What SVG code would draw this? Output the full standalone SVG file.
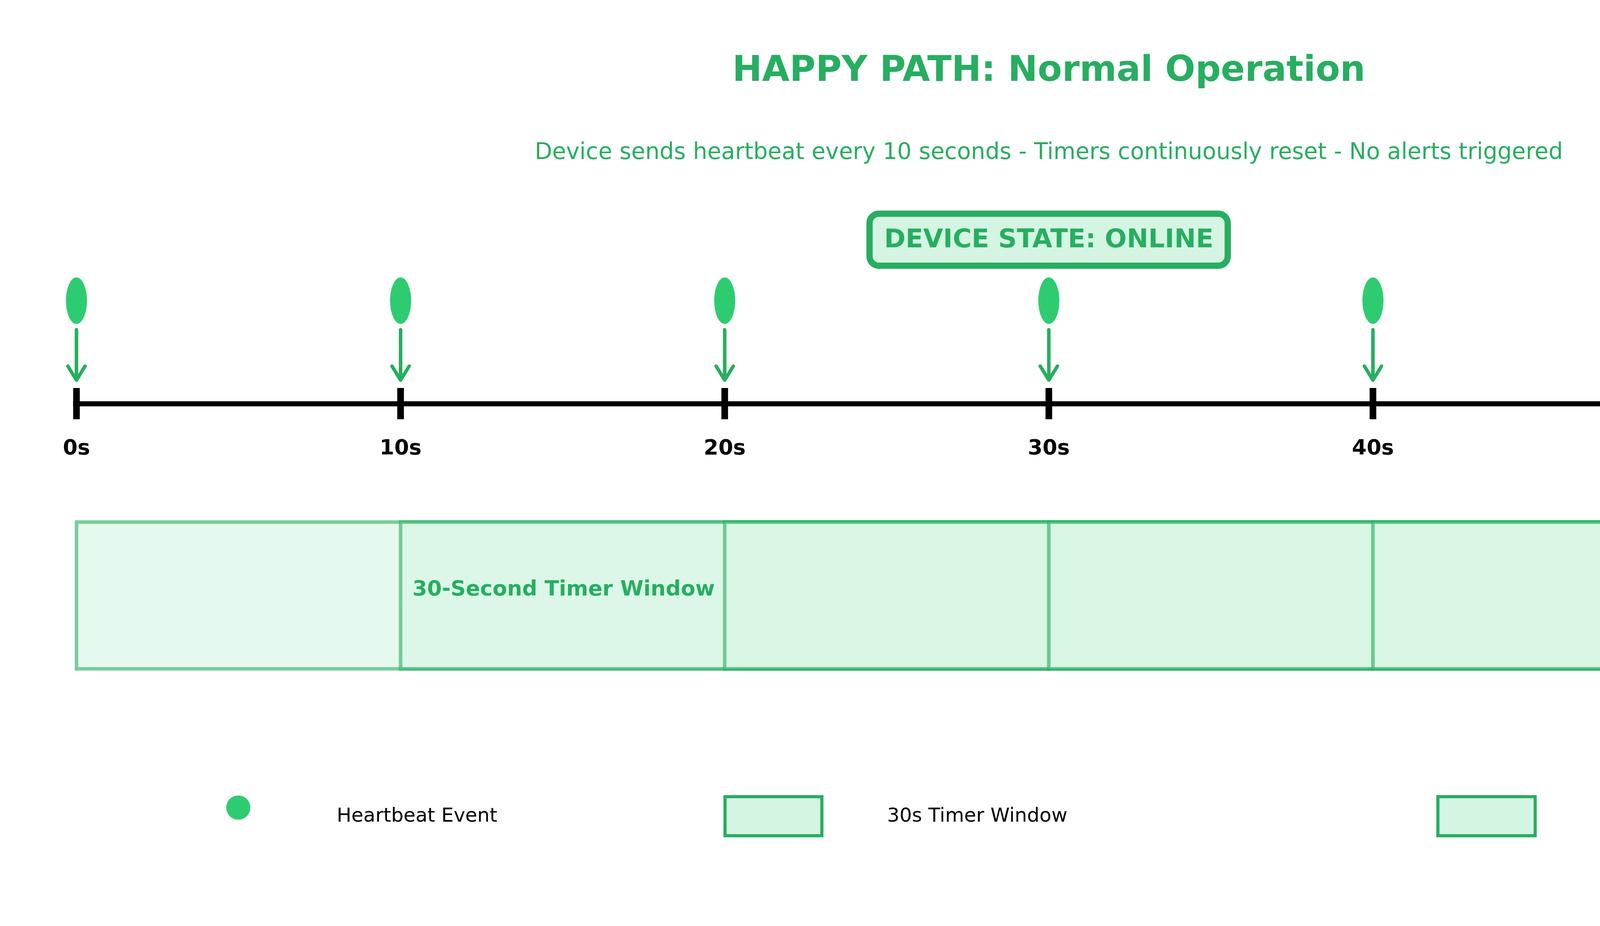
<svg xmlns="http://www.w3.org/2000/svg" width="5370" height="2370" viewBox="0 0 5370 2370">
<style>
text{font-family:"DejaVu Sans","Liberation Sans",sans-serif}
.title{font-size:91px;font-weight:bold;fill:#27ae60}
.sub{font-size:58px;fill:#27ae60}
.state{font-size:66px;font-weight:bold;fill:#27ae60}
.tl{font-size:54px;font-weight:bold;fill:#000}
.wl{font-size:54px;font-weight:bold;fill:#27ae60}
.lg{font-size:50px;fill:#000}
.hb{fill:#2ecc71}
.arr{fill:none;stroke:#27ae60;stroke-width:9;stroke-linecap:round;stroke-linejoin:round}
.tick{stroke:#000;stroke-width:17}
.win{fill:#d5f5e3;fill-opacity:0.6;stroke:#27ae60;stroke-opacity:0.6;stroke-width:9}
.lbox{fill:#d5f5e3;stroke:#27ae60;stroke-width:8}
</style>
<defs>
<clipPath id="bandclip"><rect x="0" y="1300" width="5340" height="450"/></clipPath>
</defs>
<rect x="0" y="0" width="5370" height="2370" fill="#fff"/>
<g id="title">
<text class="title" x="2685" y="207" text-anchor="middle">HAPPY PATH: Normal Operation</text>
<text class="sub" x="2685" y="407" text-anchor="middle">Device sends heartbeat every 10 seconds - Timers continuously reset - No alerts triggered</text>
</g>
<g id="state">
<rect x="2226" y="547" width="917" height="133" rx="24" ry="24" fill="#d5f5e3" stroke="#27ae60" stroke-width="16"/>
<text class="state" x="2685" y="633" text-anchor="middle">DEVICE STATE: ONLINE</text>
</g>
<g id="windows" clip-path="url(#bandclip)">
<rect class="win" x="195.75" y="1336" width="2489.25" height="376"/>
<rect class="win" x="1025.5" y="1336" width="2489.25" height="376"/>
<rect class="win" x="1855.25" y="1336" width="2489.25" height="376"/>
<rect class="win" x="2685" y="1336" width="2489.25" height="376"/>
<rect class="win" x="3514.75" y="1336" width="2489.25" height="376"/>
<rect class="win" x="4344.5" y="1336" width="2489.25" height="376"/>
<text class="wl" x="1056" y="1524">30-Second Timer Window</text>
</g>
<g id="axis">
<line x1="187" y1="1033.5" x2="5183" y2="1033.5" stroke="#000" stroke-width="13"/>
<line class="tick" x1="195.75" y1="993" x2="195.75" y2="1073"/>
<line class="tick" x1="1025.5" y1="993" x2="1025.5" y2="1073"/>
<line class="tick" x1="1855.25" y1="993" x2="1855.25" y2="1073"/>
<line class="tick" x1="2685" y1="993" x2="2685" y2="1073"/>
<line class="tick" x1="3514.75" y1="993" x2="3514.75" y2="1073"/>
<line class="tick" x1="4344.5" y1="993" x2="4344.5" y2="1073"/>
<line class="tick" x1="5174.25" y1="993" x2="5174.25" y2="1073"/>
<text class="tl" x="195.75" y="1163" text-anchor="middle">0s</text>
<text class="tl" x="1025.5" y="1163" text-anchor="middle">10s</text>
<text class="tl" x="1855.25" y="1163" text-anchor="middle">20s</text>
<text class="tl" x="2685" y="1163" text-anchor="middle">30s</text>
<text class="tl" x="3514.75" y="1163" text-anchor="middle">40s</text>
<text class="tl" x="4344.5" y="1163" text-anchor="middle">50s</text>
<text class="tl" x="5174.25" y="1163" text-anchor="middle">60s</text>
</g>
<g id="hb0"><ellipse class="hb" cx="195.75" cy="769.5" rx="27" ry="59.5"/></g>
<g id="hb1"><ellipse class="hb" cx="1025.5" cy="769.5" rx="27" ry="59.5"/></g>
<g id="hb2"><ellipse class="hb" cx="1855.25" cy="769.5" rx="27" ry="59.5"/></g>
<g id="hb3"><ellipse class="hb" cx="2685" cy="769.5" rx="27" ry="59.5"/></g>
<g id="hb4"><ellipse class="hb" cx="3514.75" cy="769.5" rx="27" ry="59.5"/></g>
<g id="hb5"><ellipse class="hb" cx="4344.5" cy="769.5" rx="27" ry="59.5"/></g>
<g id="hb6"><ellipse class="hb" cx="5174.25" cy="769.5" rx="27" ry="59.5"/></g>
<g id="connectors">
<path class="arr" d="M195.75 844V972M173.75 937L195.75 973L217.75 937"/>
<path class="arr" d="M1025.5 844V972M1003.5 937L1025.5 973L1047.5 937"/>
<path class="arr" d="M1855.25 844V972M1833.25 937L1855.25 973L1877.25 937"/>
<path class="arr" d="M2685 844V972M2663 937L2685 973L2707 937"/>
<path class="arr" d="M3514.75 844V972M3492.75 937L3514.75 973L3536.75 937"/>
<path class="arr" d="M4344.5 844V972M4322.5 937L4344.5 973L4366.5 937"/>
<path class="arr" d="M5174.25 844V972M5152.25 937L5174.25 973L5196.25 937"/>
</g>
<g id="legend">
<circle class="hb" cx="610" cy="2067" r="31"/>
<text class="lg" x="862" y="2103">Heartbeat Event</text>
<rect class="lbox" x="1856" y="2039" width="248" height="100"/>
<text class="lg" x="2271" y="2103">30s Timer Window</text>
<rect class="lbox" x="3681" y="2039" width="249" height="100"/>
<text class="lg" x="4097" y="2103">Device Online</text>
</g>
</svg>
